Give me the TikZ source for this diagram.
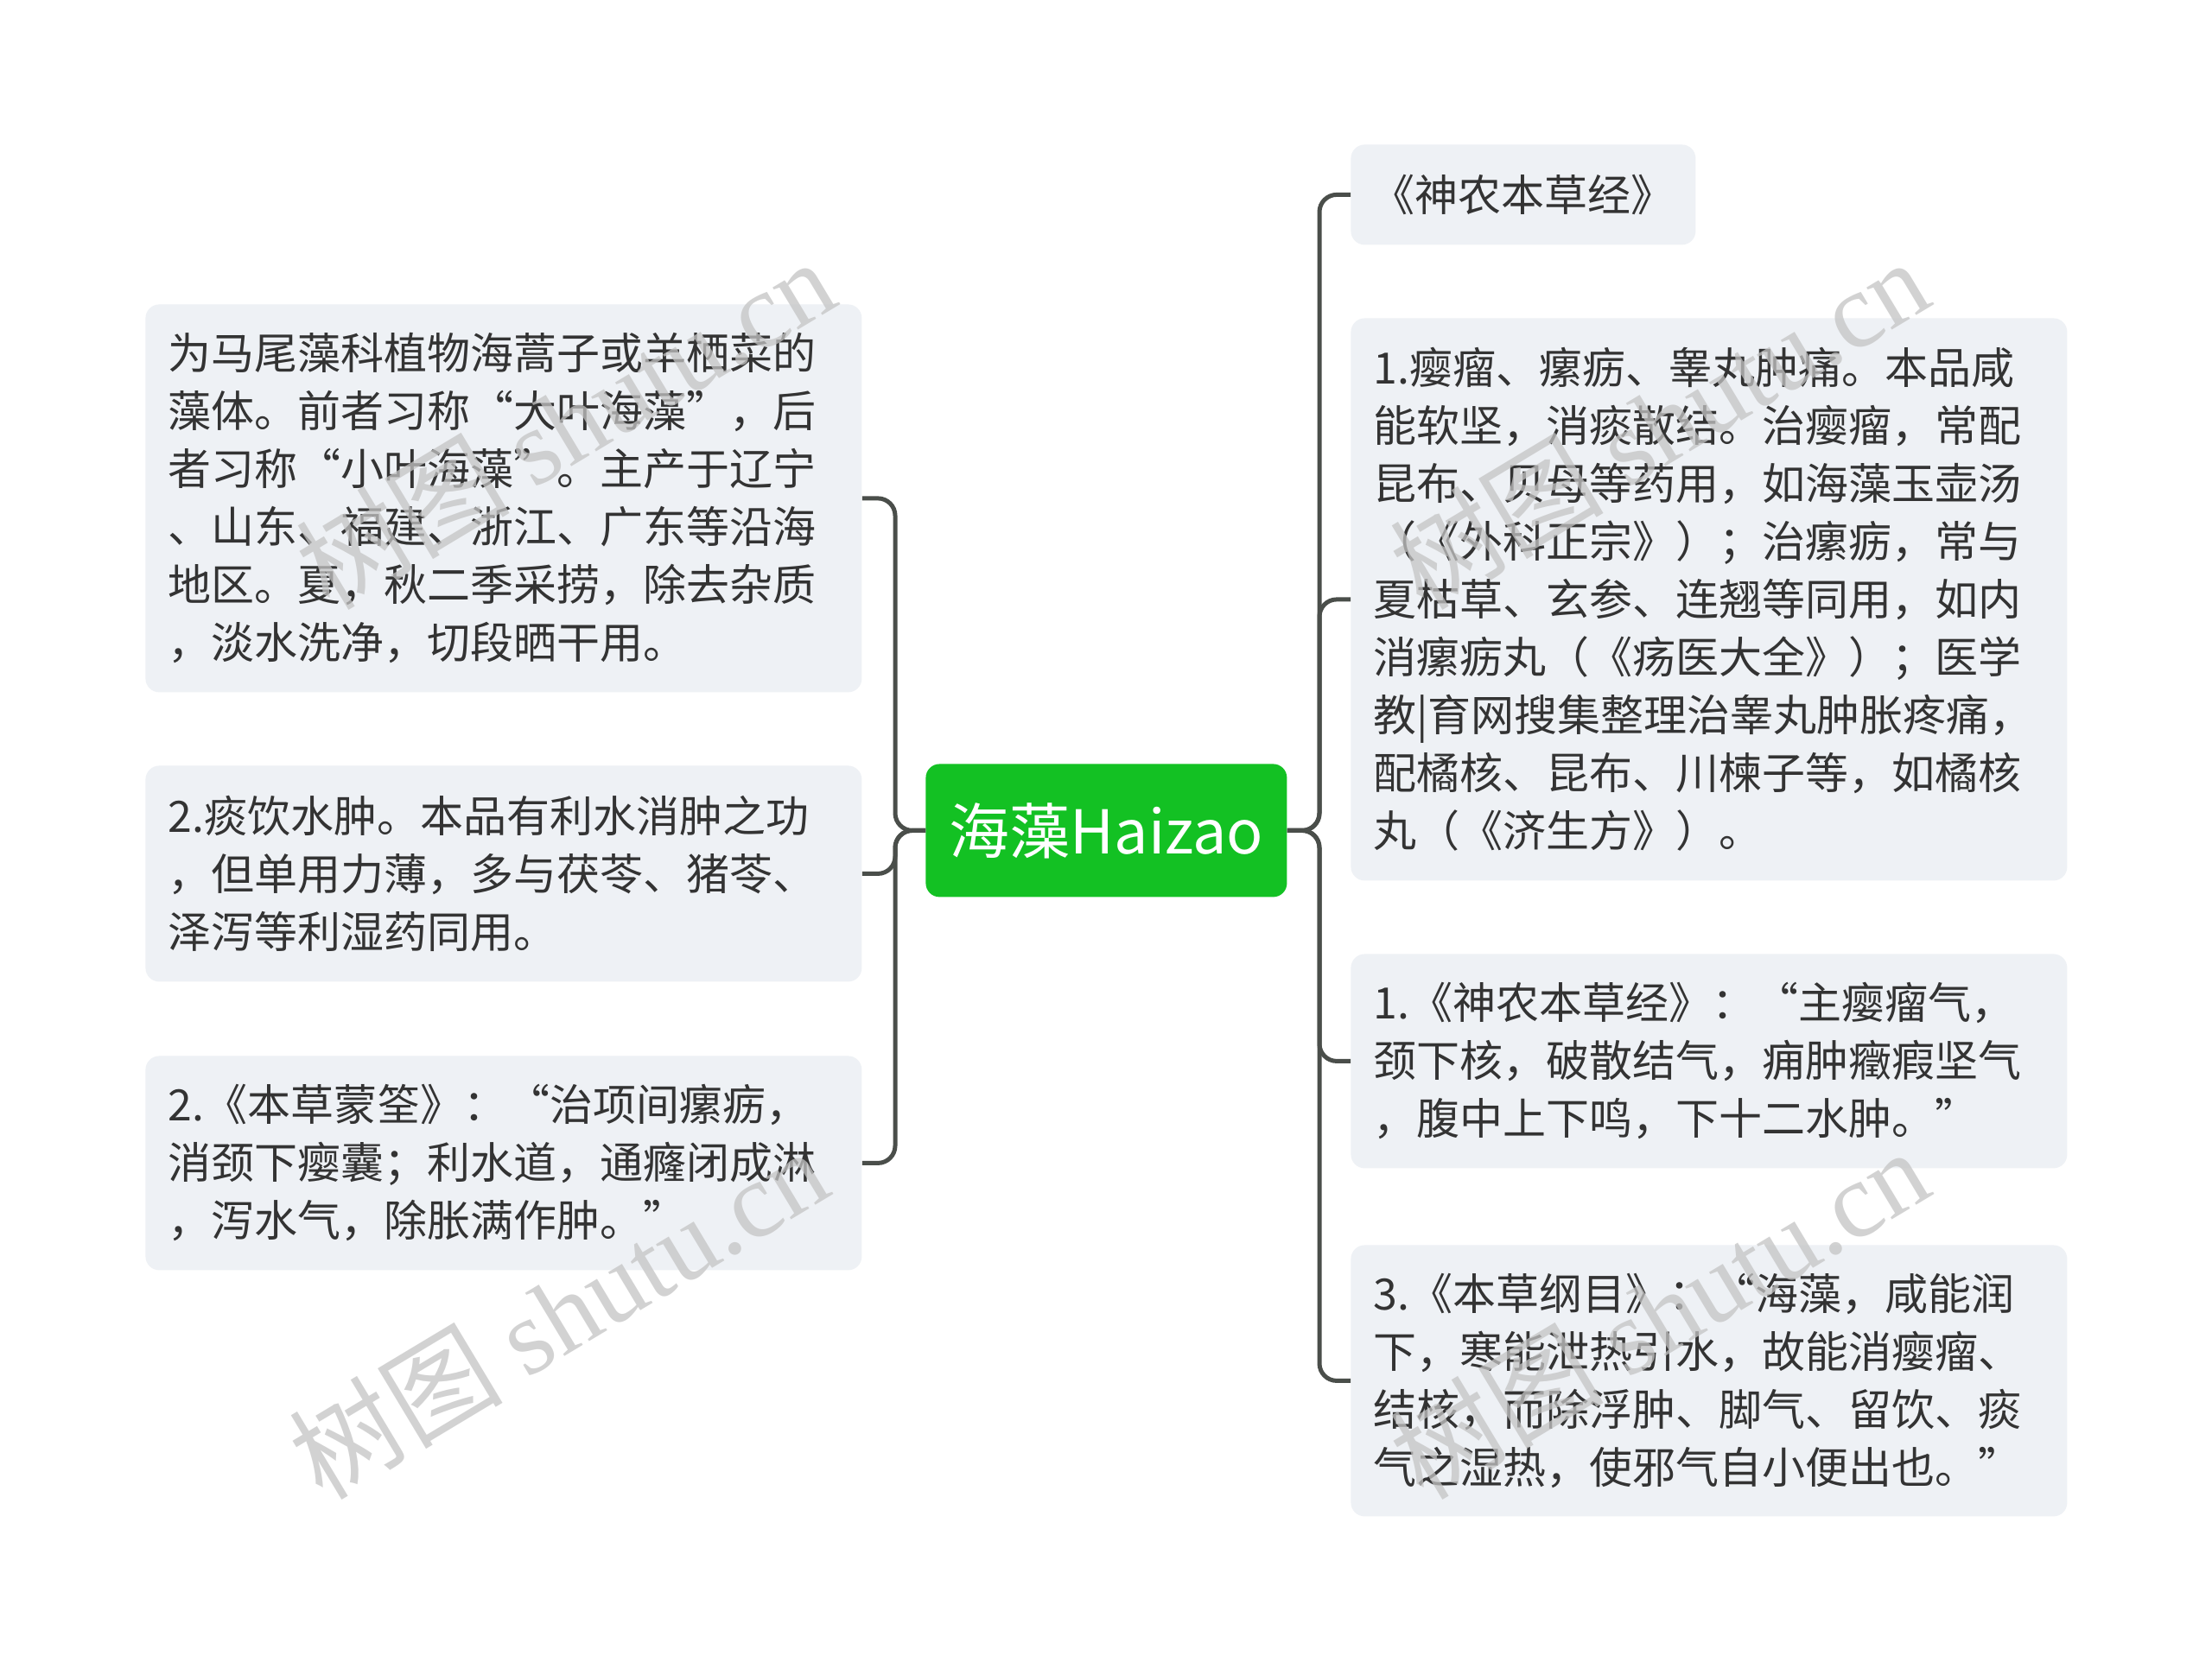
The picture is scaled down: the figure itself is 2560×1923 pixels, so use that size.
\documentclass[tikz,border=0pt]{standalone}
\usepackage{fontspec}
\setmainfont{Noto Sans CJK SC}
\newfontfamily\wmfont{Liberation Serif}
\usetikzlibrary{calc}
\definecolor{boxfill}{HTML}{EEF1F5}
\definecolor{txt}{HTML}{333333}
\definecolor{rootgreen}{HTML}{13C123}
\definecolor{lnk}{HTML}{4A4E4A}
\definecolor{wmgray}{HTML}{C4C4C4}
\begin{document}
\begin{tikzpicture}[x=0.5pt,y=-0.5pt]
\useasboundingbox[fill=white] (0,0) rectangle (2560,1923);
\tikzset{
  leaf/.style={anchor=north west, fill=boxfill, rounded corners=8pt, align=left,
    inner xsep=13pt, inner ysep=0pt, text=txt, font=\fontsize{25pt}{33.5pt}\selectfont},
  conn/.style={draw=lnk, line width=2.5pt, rounded corners=10pt},
  wm/.style={text=wmgray, opacity=0.75, rotate=31, font=\fontsize{62pt}{70pt}\selectfont},
}
% left leaves
\node[leaf, text width=388.5pt, minimum height=224.5pt] (l1) at (168,352)
  {为马尾藻科植物海蒿子或羊栖菜的\\藻体。前者习称“大叶海藻”，后\\者习称“小叶海藻”。主产于辽宁\\、山东、福建、浙江、广东等沿海\\地区。夏，秋二季采捞，除去杂质\\，淡水洗净，切段晒干用。};
\node[leaf, text width=388.5pt, minimum height=125pt] (l2) at (168,886)
  {2.痰饮水肿。本品有利水消肿之功\\，但单用力薄，多与茯苓、猪苓、\\泽泻等利湿药同用。};
\node[leaf, text width=388.5pt, minimum height=124pt] (l3) at (168,1222)
  {2.《本草蒙筌》：“治项间瘰疬，\\消颈下瘿囊；利水道，通癃闭成淋\\，泻水气，除胀满作肿。”};
% root
\node[anchor=north west, fill=rootgreen, rounded corners=8pt, minimum width=209pt,
  minimum height=77pt, inner sep=0pt, text=white, font=\fontsize{35pt}{40pt}\selectfont]
  (c) at (1071,884) {海藻Haizao};
% right leaves
\node[leaf, text width=175.5pt, inner xsep=12pt, minimum height=58pt] (r1) at (1563,167)
  {《神农本草经》};
\node[leaf, text width=388.5pt, minimum height=325.5pt] (r2) at (1563,368)
  {1.瘿瘤、瘰疬、睾丸肿痛。本品咸\\能软坚，消痰散结。治瘿瘤，常配\\昆布、贝母等药用，如海藻玉壶汤\\（《外科正宗》）；治瘰疬，常与\\夏枯草、玄参、连翘等同用，如内\\消瘰疬丸（《疡医大全》）；医学\\教|育网搜集整理治睾丸肿胀疼痛，\\配橘核、昆布、川楝子等，如橘核\\丸（《济生方》）。};
\node[leaf, text width=388.5pt, minimum height=124pt] (r3) at (1563,1104)
  {1.《神农本草经》：“主瘿瘤气，\\颈下核，破散结气，痈肿癥瘕坚气\\，腹中上下鸣，下十二水肿。”};
\node[leaf, text width=388.5pt, minimum height=157pt] (r4) at (1563,1441)
  {3.《本草纲目》：“海藻，咸能润\\下，寒能泄热引水，故能消瘿瘤、\\结核，而除浮肿、脚气、留饮、痰\\气之湿热，使邪气自小便出也。”};
% connectors
\coordinate (tl) at (1036,0);
\coordinate (tr) at (1527,0);
\foreach \n in {l1,l2,l3}
  \draw[conn] (c.west) -- (c.west -| tl) -- (\n.east -| tl) -- (\n.east);
\foreach \n in {r1,r2,r3,r4}
  \draw[conn] (c.east) -- (c.east -| tr) -- (\n.west -| tr) -- (\n.west);
% watermarks
\node[wm] (w1) at (654,490) {树图 {\wmfont shutu.cn}};
\node[wm] (w2) at (646,1520) {树图 {\wmfont shutu.cn}};
\node[wm] (w3) at (1920,490) {树图 {\wmfont shutu.cn}};
\node[wm] (w4) at (1920,1520) {树图 {\wmfont shutu.cn}};
\end{tikzpicture}
\end{document}
